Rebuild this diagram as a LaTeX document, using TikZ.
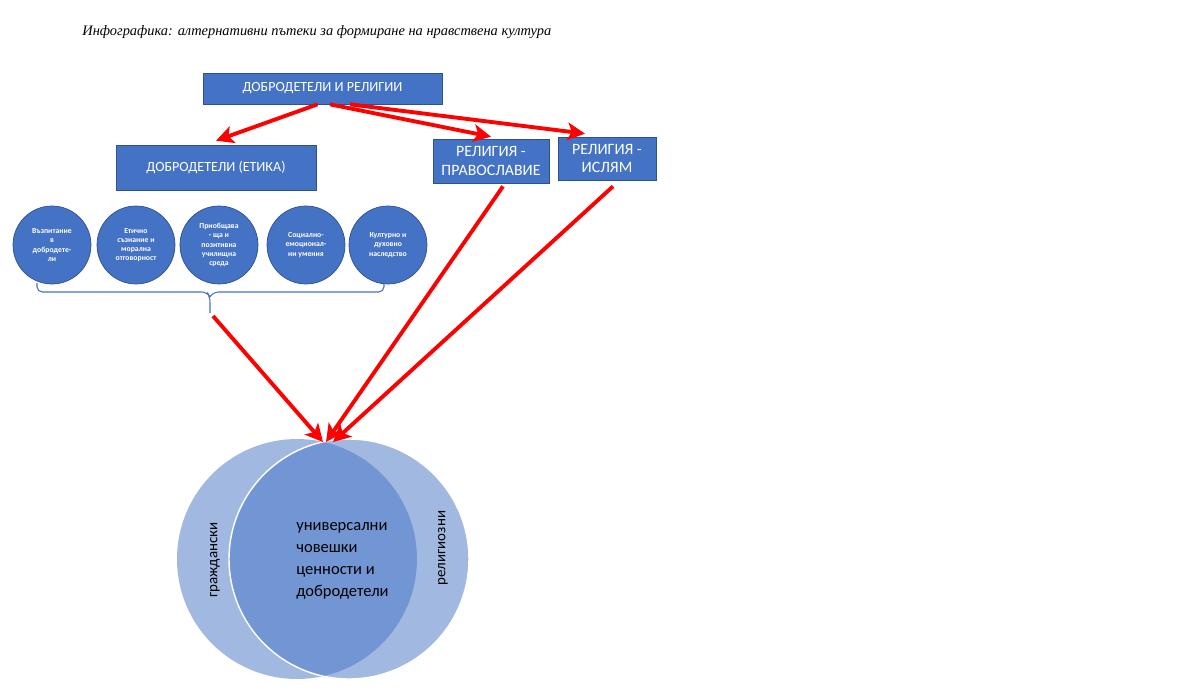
\documentclass[tikz,border=0pt]{standalone}
\usepackage{fontspec}
\setmainfont{Carlito}
\newfontfamily\titlefont{Liberation Serif}
\usetikzlibrary{arrows.meta}
\definecolor{boxblue}{HTML}{4472C4}
\definecolor{boxline}{HTML}{2F528F}
\tikzstyle{mainbox} = [rectangle, minimum width=4.78cm, minimum height=0.62cm, text centered, draw=boxline, fill=boxblue, text=white, font=\fontsize{8}{9.6}\selectfont]
\tikzstyle{branch} = [rectangle, align=center, draw=boxline, fill=boxblue, text=white, font=\fontsize{8}{11}\selectfont]
\tikzstyle{religion} = [branch, font=\fontsize{9}{10.5}\selectfont]
\tikzstyle{virtue} = [circle, minimum size=1.56cm, inner sep=0pt, align=center, draw=boxline, fill=boxblue, text=white, font=\fontsize{4.4}{5.2}\selectfont\bfseries]
\tikzstyle{venn} = [circle, minimum size=4.8cm, fill=boxblue, fill opacity=0.5]
\tikzstyle{bracket} = [boxblue, line width=0.6pt, rounded corners=3pt]
\tikzstyle{arrow} = [line width=2.2pt, red, -{Stealth[length=10pt, width=10pt, inset=2.5pt]}]

\begin{document}
\begin{tikzpicture}[x=0.02cm, y=-0.02cm]
                \useasboundingbox (0,0) rectangle (1184,693);
                % Title
                \node (title) [anchor=west, inner sep=0pt] at (82,32) {\titlefont\itshape\fontsize{8.2}{10}\selectfont Инфографика: алтернативни пътеки за формиране на нравствена култура};

                % Nodes
                \node (virt) [mainbox] at (322.5,88.5) {ДОБРОДЕТЕЛИ И РЕЛИГИИ};
                \node (ethic) [branch, minimum width=4cm, minimum height=0.9cm] at (216,167.5) {ДОБРОДЕТЕЛИ (ЕТИКА)};
                \node (orthodox) [religion, minimum width=2.32cm, minimum height=0.88cm] at (491,161) {РЕЛИГИЯ -\\ПРАВОСЛАВИЕ};
                \node (islam) [religion, minimum width=1.96cm, minimum height=0.86cm] at (607,158.5) {РЕЛИГИЯ -\\ИСЛЯМ};

                % Virtue circles
                \node (upbring) [virtue] at (52,245) {Възпитание\\в\\добродете-\\ли};
                \node (moral) [virtue] at (136,245) {Етично\\съзнание и\\морална\\отговорност};
                \node (school) [virtue] at (219,245) {Приобщава\\- ща и\\позитивна\\училищна\\среда};
                \node (social) [virtue] at (306,245) {Социално-\\емоционал-\\ни умения};
                \node (heritage) [virtue] at (388,245) {Културно и\\духовно\\наследство};

                % Brace
                \draw [bracket] (37,283) -- (37,292) -- (207,292) -- (210,297) -- (210,313);
                \draw [bracket] (384,283) -- (384,292) -- (213,292) -- (210,297);
                \coordinate (bracetip) at (213,316);

                % Venn
                \node (civic) [venn] at (297,559) {};
                \node (relig) [venn, draw=white, draw opacity=1, line width=0.8pt] at (349,559) {};
                \coordinate (venntop) at (323,442);
                \node (civictext) [rotate=90, font=\fontsize{8.5}{10}\selectfont] at (215,560) {граждански};
                \node (religtext) [rotate=90, font=\fontsize{8.5}{10}\selectfont] at (443,548) {религиозни};
                \node (common) [anchor=west, align=left, inner sep=0pt, font=\fontsize{9.4}{12.5}\selectfont] at (296,561) {универсални\\човешки\\ценности и\\добродетели};

                % Arrows
                \draw [arrow] ([xshift=-0.1cm]virt.south) -- ([yshift=0.08cm]ethic.north);
                \draw [arrow] ([xshift=0.15cm]virt.south) -- ([yshift=0.04cm]orthodox.north);
                \draw [arrow] ([xshift=0.55cm]virt.south) -- ([xshift=-0.44cm, yshift=0.06cm]islam.north);
                \draw [arrow] (bracetip) -- (venntop);
                \draw [arrow] ([xshift=0.24cm, yshift=-0.06cm]orthodox.south) -- ([xshift=0.06cm]venntop);
                \draw [arrow] ([xshift=0.12cm, yshift=-0.12cm]islam.south) -- ([xshift=0.2cm]venntop);
            \end{tikzpicture}
\end{document}
